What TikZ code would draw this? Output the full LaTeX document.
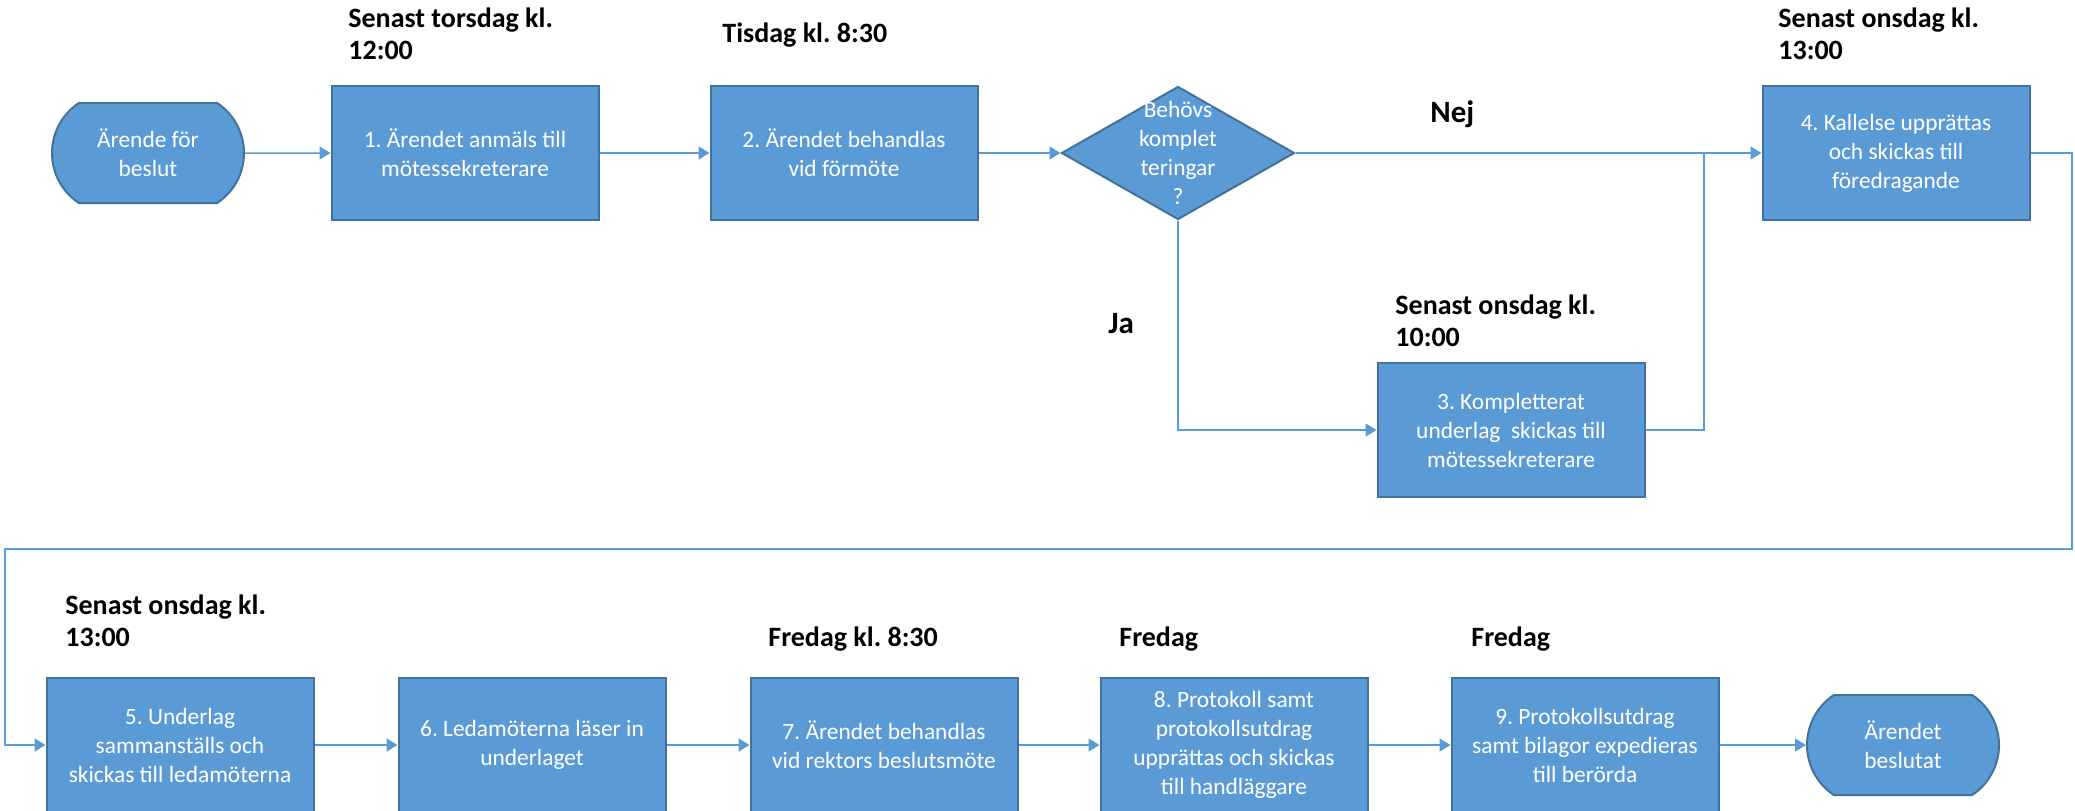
\documentclass[tikz,border=0pt]{standalone}
\usepackage{fontspec}
\setmainfont{Carlito}
\frenchspacing
\usetikzlibrary{arrows.meta, shapes.geometric, shapes.misc}
\definecolor{kastblue}{HTML}{5B9BD5}
\definecolor{kastrand}{HTML}{41719C}

\begin{document}
\begin{tikzpicture}[x=0.5pt, y=0.5pt,
			>={Triangle[length=5.5pt,width=6.5pt]},   %Pfeilspitzen
			kast/.style={draw=kastrand, line width=1pt, fill=kastblue, text=white, align=center,
				minimum width=133.5pt, minimum height=67pt, inner sep=2pt, font=\fontsize{11.7}{14.5}\selectfont},
			term/.style={kast, rounded rectangle, rounded rectangle arc length=113, minimum width=100pt, minimum height=50pt},
			raute/.style={kast, diamond, minimum width=116.5pt, minimum height=66.5pt, inner sep=0pt},
			zeit/.style={anchor=north west, align=left, inner sep=0pt, font=\bfseries\fontsize{14}{16}\selectfont},
			wahl/.style={anchor=base west, inner sep=0pt, font=\bfseries\fontsize{15.5}{18}\selectfont},
			linie/.style={draw=kastblue, line width=0.75pt},
			pfeil/.style={linie, ->}]
			% Bildbereich
			\useasboundingbox (0,0) rectangle (2075,-810);
			% obere Reihe
			\node[term] (start) at (148,-153) {Ärende för\\beslut};
			\node[kast] (b1) at (465,-153) {1. Ärendet anmäls till\\mötessekreterare};
			\node[kast] (b2) at (844,-153) {2. Ärendet behandlas\\vid förmöte};
			\node[raute, label={[text=white, align=center, font=\fontsize{11.7}{14.5}\selectfont]center:Behövs\\komplet\\teringar\\?}] (frage) at (1178,-153) {};
			\node[kast] (b4) at (1896,-153) {4. Kallelse upprättas\\och skickas till\\föredragande};
			\node[kast] (b3) at (1511,-430) {3. Kompletterat\\underlag\ \ skickas till\\mötessekreterare};
			% untere Reihe
			\node[kast] (b5) at (180,-745) {5. Underlag\\sammanställs och\\skickas till ledamöterna};
			\node[kast] (b6) at (532,-745) {6. Ledamöterna läser in\\underlaget};
			\node[kast] (b7) at (884,-745) {7. Ärendet behandlas\\vid rektors beslutsmöte};
			\node[kast] (b8) at (1234,-745) {8. Protokoll samt\\protokollsutdrag\\upprättas och skickas\\till handläggare};
			\node[kast] (b9) at (1585,-745) {9. Protokollsutdrag\\samt bilagor expedieras\\till berörda};
			\node[term] (slut) at (1903,-745) {Ärendet\\beslutat};
			% Zeiten
			\node[zeit] (z1) at (348,-7) {Senast torsdag kl.\\12:00};
			\node[zeit] (z2) at (722,-22) {Tisdag kl. 8:30};
			\node[zeit] (z4) at (1778,-7) {Senast onsdag kl.\\13:00};
			\node[zeit] (z3) at (1395,-294) {Senast onsdag kl.\\10:00};
			\node[zeit] (z5) at (65,-594) {Senast onsdag kl.\\13:00};
			\node[zeit] (z7) at (768,-626) {Fredag kl. 8:30};
			\node[zeit] (z8) at (1119,-626) {Fredag};
			\node[zeit] (z9) at (1471,-626) {Fredag};
			\node[wahl] (nej) at (1430,-122) {Nej};
			\node[wahl] (ja) at (1108,-333) {Ja};
			% Knickpunkte
			\coordinate (knick) at (1704,-153);
			\coordinate (rechts) at (2072,-549);
			\coordinate (links) at (5,-549);
			% Verbindungen
			\draw[pfeil] (start) -- (b1);
			\draw[pfeil] (b1) -- (b2);
			\draw[pfeil] (b2) -- (frage);
			\draw[pfeil] (frage) -- (b4);
			\draw[pfeil] (frage.south) |- (b3);
			\draw[linie] (b3) -| (knick);
			\draw[pfeil] (b4) -| (rechts) -- (links) |- (b5);
			\draw[pfeil] (b5) -- (b6);
			\draw[pfeil] (b6) -- (b7);
			\draw[pfeil] (b7) -- (b8);
			\draw[pfeil] (b8) -- (b9);
			\draw[pfeil] (b9) -- (slut);
		\end{tikzpicture}
\end{document}
